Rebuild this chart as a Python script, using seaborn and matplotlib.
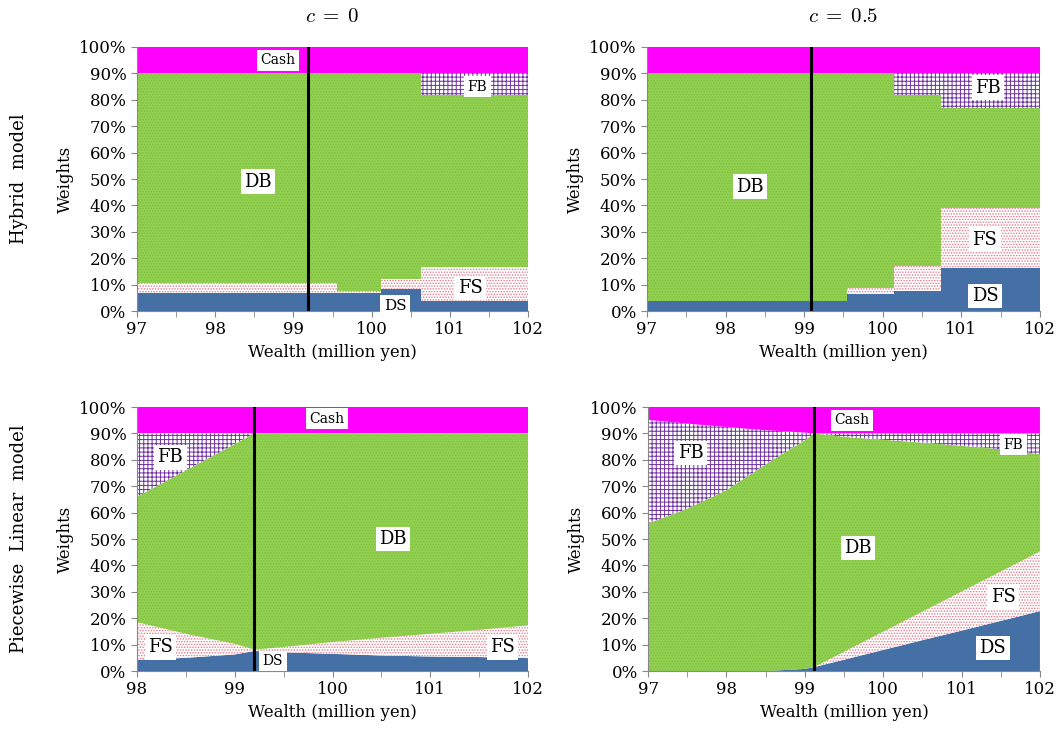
import numpy as np
import matplotlib
matplotlib.use("Agg")
import matplotlib.pyplot as plt
import matplotlib.ticker as ticker
import seaborn as sns

sns.set_style("ticks")
plt.rcParams['font.family'] = ['DejaVu Serif']
plt.rcParams['mathtext.fontset'] = 'cm'
plt.rcParams['hatch.linewidth'] = 0.7
plt.rcParams['text.color'] = 'black'
plt.rcParams['axes.labelcolor'] = 'black'
plt.rcParams['xtick.labelcolor'] = 'black'
plt.rcParams['ytick.labelcolor'] = 'black'

assets = ["DS", "FS", "DB", "FB", "Cash"]

# Hybrid model, c = 0 (piecewise constant, last value repeated at the right edge)
hyb0_x = [97, 99.56, 100.12, 100.63, 102]
hyb0_DS = [0.069, 0.069, 0.085, 0.037, 0.037]
hyb0_FS = [0.037, 0.007, 0.035, 0.130, 0.130]
hyb0_DB = [0.794, 0.824, 0.780, 0.650, 0.650]
hyb0_FB = [0.0, 0.0, 0.0, 0.083, 0.083]
hyb0_Cash = [0.1, 0.1, 0.1, 0.1, 0.1]
hyb0_line = 99.18

# Hybrid model, c = 0.5
hyb5_x = [97, 99.54, 100.14, 100.74, 102]
hyb5_DS = [0.038, 0.063, 0.074, 0.164, 0.164]
hyb5_FS = [0.0, 0.023, 0.095, 0.226, 0.226]
hyb5_DB = [0.862, 0.814, 0.648, 0.380, 0.380]
hyb5_FB = [0.0, 0.0, 0.083, 0.130, 0.130]
hyb5_Cash = [0.1, 0.1, 0.1, 0.1, 0.1]
hyb5_line = 99.09

# Piecewise linear model, c = 0
pl0_x = [98, 98.5, 99, 99.2, 99.5, 100, 100.5, 101, 101.5, 102]
pl0_DS = [0.043, 0.050, 0.063, 0.076, 0.071, 0.065, 0.059, 0.055, 0.053, 0.049]
pl0_FS = [0.142, 0.091, 0.040, 0.005, 0.020, 0.045, 0.067, 0.086, 0.103, 0.124]
pl0_DB = [0.475, 0.619, 0.757, 0.819, 0.809, 0.790, 0.774, 0.759, 0.744, 0.727]
pl0_FB = [0.240, 0.140, 0.040, 0.0, 0.0, 0.0, 0.0, 0.0, 0.0, 0.0]
pl0_Cash = [0.1] * 10
pl0_line = 99.2

# Piecewise linear model, c = 0.5
pl5_x = [97, 97.5, 98, 98.5, 99, 99.12, 99.5, 100, 100.5, 101, 101.5, 102]
pl5_DS = [0, 0, 0, 0, 0.008, 0.015, 0.043, 0.080, 0.117, 0.153, 0.190, 0.227]
pl5_FS = [0, 0, 0, 0, 0, 0, 0.030, 0.069, 0.108, 0.148, 0.187, 0.226]
pl5_DB = [0.559, 0.615, 0.685, 0.783, 0.866, 0.885, 0.814, 0.727, 0.640, 0.552, 0.463, 0.368]
pl5_FB = [0.392, 0.322, 0.239, 0.129, 0.029, 0.0, 0.013, 0.024, 0.035, 0.047, 0.060, 0.079]
pl5_Cash = [0.049, 0.063, 0.076, 0.088, 0.097, 0.1, 0.1, 0.1, 0.1, 0.1, 0.1, 0.1]
pl5_line = 99.12

styles = {
    "DS": dict(facecolor="#4470a6", edgecolor="none", hatch=None),
    "FS": dict(facecolor="white", edgecolor="#e07a8a", hatch="......"),
    "DB": dict(facecolor="#92d050", edgecolor="#80bf44", hatch="......"),
    "FB": dict(facecolor="white", edgecolor="#7030a0", hatch="++++"),
    "Cash": dict(facecolor="#ff00ff", edgecolor="none", hatch=None),
}

panels = [
    dict(x=hyb0_x, w=[hyb0_DS, hyb0_FS, hyb0_DB, hyb0_FB, hyb0_Cash], line=hyb0_line,
         step=True, xlim=(97, 102), pos=[0.1294, 0.5797, 0.3692, 0.3568],
         labels=[("Cash", 98.8, 0.95, 10), ("DB", 98.55, 0.49, 13), ("FB", 101.35, 0.85, 10),
                 ("FS", 101.26, 0.087, 13), ("DS", 100.3, 0.02, 11)]),
    dict(x=hyb5_x, w=[hyb5_DS, hyb5_FS, hyb5_DB, hyb5_FB, hyb5_Cash], line=hyb5_line,
         step=True, xlim=(97, 102), pos=[0.611, 0.5797, 0.371, 0.3568],
         labels=[("DB", 98.31, 0.47, 13), ("FB", 101.34, 0.845, 13),
                 ("FS", 101.3, 0.27, 13), ("DS", 101.3, 0.057, 13)]),
    dict(x=pl0_x, w=[pl0_DS, pl0_FS, pl0_DB, pl0_FB, pl0_Cash], line=pl0_line,
         step=False, xlim=(98, 102), pos=[0.1294, 0.0932, 0.3692, 0.3568],
         labels=[("Cash", 99.94, 0.955, 10), ("FB", 98.34, 0.81, 13), ("DB", 100.62, 0.5, 13),
                 ("FS", 98.24, 0.09, 13), ("FS", 101.74, 0.09, 13), ("DS", 99.39, 0.038, 10)]),
    dict(x=pl5_x, w=[pl5_DS, pl5_FS, pl5_DB, pl5_FB, pl5_Cash], line=pl5_line,
         step=False, xlim=(97, 102), pos=[0.612, 0.0932, 0.370, 0.3568],
         labels=[("Cash", 99.6, 0.95, 10), ("FB", 97.54, 0.826, 13), ("FB", 101.66, 0.857, 10),
                 ("DB", 99.68, 0.466, 13), ("FS", 101.53, 0.28, 13), ("DS", 101.4, 0.087, 13)]),
]

fig = plt.figure(figsize=(10.59, 7.40), dpi=100)

for p in panels:
    ax = fig.add_axes(p["pos"])
    x = np.array(p["x"], dtype=float)
    lower = np.zeros(len(x))
    for name, vals in zip(assets, p["w"]):
        upper = lower + np.array(vals)
        st = styles[name]
        ax.fill_between(x, lower, upper, step="post" if p["step"] else None,
                        facecolor=st["facecolor"], edgecolor=st["edgecolor"],
                        hatch=st["hatch"], linewidth=0)
        lower = upper
    ax.axvline(p["line"], color="black", lw=2.2)
    for txt, tx, ty, fs in p["labels"]:
        ax.text(tx, ty, txt, ha="center", va="center", fontsize=fs, color="black",
                bbox=dict(facecolor="white", edgecolor="none", pad=2.5))
    ax.set_xlim(*p["xlim"])
    ax.set_ylim(0, 1)
    ax.xaxis.set_major_locator(ticker.MultipleLocator(1))
    ax.xaxis.set_minor_locator(ticker.MultipleLocator(0.5))
    ax.yaxis.set_major_locator(ticker.MultipleLocator(0.1))
    ax.yaxis.set_major_formatter(ticker.PercentFormatter(1.0, decimals=0))
    ax.tick_params(axis="both", which="major", labelsize=12, length=4, color="#888888")
    ax.tick_params(axis="x", which="minor", length=4, color="#888888")
    ax.set_xlabel("Wealth (million yen)", fontsize=12, labelpad=4)
    ax.set_ylabel("Weights", fontsize=12, labelpad=4)
    sns.despine(ax=ax)
    for s in ["left", "bottom"]:
        ax.spines[s].set_color("#888888")
        ax.spines[s].set_linewidth(0.8)

fig.text(0.3140, 0.978, r"$c\;=\;0$", ha="center", va="center", fontsize=15)
fig.text(0.7965, 0.978, r"$c\;=\;0.5$", ha="center", va="center", fontsize=15)
fig.text(0.018, 0.758, "Hybrid  model", rotation=90, ha="center", va="center", fontsize=13)
fig.text(0.018, 0.272, "Piecewise  Linear  model", rotation=90, ha="center", va="center", fontsize=13)

fig.savefig("out.png", dpi=100)
